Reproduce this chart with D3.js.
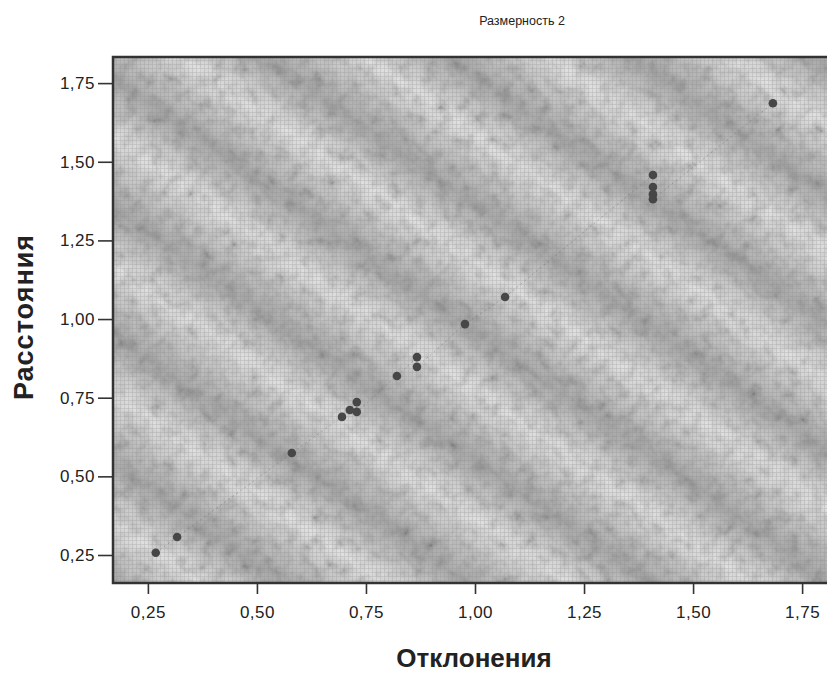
<!DOCTYPE html>
<html>
<head>
<meta charset="utf-8">
<script src="https://cdn.jsdelivr.net/npm/d3@7"></script>
<style>
  body { margin: 0; background: #fff; }
  svg { display: block; font-family: "Liberation Sans", Arial, sans-serif; }
</style>
</head>
<body>
<svg id="chart"></svg>
<script>
// disparities (x) and distances (y)
const otkloneniya = [0.268, 0.317, 0.58, 0.695, 0.713, 0.729, 0.729, 0.821, 0.867, 0.867, 0.977, 1.069, 1.408, 1.408, 1.408, 1.408, 1.683];
const rasstoyaniya = [0.257, 0.307, 0.574, 0.689, 0.711, 0.736, 0.705, 0.819, 0.879, 0.848, 0.984, 1.07, 1.458, 1.42, 1.397, 1.381, 1.686];
const xTicks = [0.25, 0.50, 0.75, 1.00, 1.25, 1.50, 1.75];
const yTicks = [0.25, 0.50, 0.75, 1.00, 1.25, 1.50, 1.75];

const width = 827, height = 674;
const margin = { top: 57, right: -10, bottom: 91, left: 113 };

const svg = d3.select("#chart")
    .attr("width", width)
    .attr("height", height);

const x = d3.scaleLinear()
    .domain([0.17, 1.83])
    .range([margin.left, width - margin.right]);

const y = d3.scaleLinear()
    .domain([0.161, 1.833])
    .range([height - margin.bottom, margin.top]);

const fmt = v => d3.format(".2f")(v).replace(".", ",");

const defs = svg.append("defs");

// soft diagonal bands of the scanned background
const grad = defs.append("linearGradient")
    .attr("id", "bandGrad")
    .attr("x1", 0).attr("y1", 0).attr("x2", 1).attr("y2", 0);
[[0, "#a9a9a9"], [0.3, "#c6c6c6"], [0.55, "#e0e0e0"], [0.8, "#c2c2c2"], [1, "#a9a9a9"]]
    .forEach(([o, c]) => grad.append("stop").attr("offset", o).attr("stop-color", c));

defs.append("pattern")
    .attr("id", "bands")
    .attr("patternUnits", "userSpaceOnUse")
    .attr("width", 105).attr("height", 10)
    .attr("patternTransform", "rotate(-55)")
    .append("rect")
    .attr("width", 105).attr("height", 10)
    .attr("fill", "url(#bandGrad)");

// fine screen grid
const grid = defs.append("pattern")
    .attr("id", "screen")
    .attr("patternUnits", "userSpaceOnUse")
    .attr("width", 4).attr("height", 4);
grid.append("path")
    .attr("d", "M0,0.5H4M0.5,0V4")
    .attr("stroke", "#8a8a8a")
    .attr("stroke-width", 0.6)
    .attr("opacity", 0.4);

// mottled speckle noise
const noise = defs.append("filter")
    .attr("id", "noise")
    .attr("x", 0).attr("y", 0).attr("width", 1).attr("height", 1);
noise.append("feTurbulence")
    .attr("type", "fractalNoise")
    .attr("baseFrequency", 0.08)
    .attr("numOctaves", 3)
    .attr("seed", 7);
noise.append("feColorMatrix")
    .attr("type", "matrix")
    .attr("values", "1.8 0 0 0 -0.2  1.8 0 0 0 -0.2  1.8 0 0 0 -0.2  0 0 0 0 1");

defs.append("clipPath").attr("id", "plotClip")
    .append("rect")
    .attr("x", x(0.17)).attr("y", y(1.833))
    .attr("width", x(1.83) - x(0.17))
    .attr("height", y(0.161) - y(1.833));

const plot = svg.append("g").attr("clip-path", "url(#plotClip)");
const px = x(0.17), py = y(1.833), pw = x(1.83) - x(0.17), ph = y(0.161) - y(1.833);

plot.append("rect").attr("x", px).attr("y", py).attr("width", pw).attr("height", ph)
    .attr("fill", "url(#bands)");
plot.append("rect").attr("x", px).attr("y", py).attr("width", pw).attr("height", ph)
    .attr("filter", "url(#noise)")
    .style("mix-blend-mode", "multiply")
    .attr("opacity", 0.28);
plot.append("rect").attr("x", px).attr("y", py).attr("width", pw).attr("height", ph)
    .attr("fill", "url(#screen)");

// faint fit line through the points
const pts = d3.range(otkloneniya.length).map(i => ({ x: otkloneniya[i], y: rasstoyaniya[i] }))
    .sort((a, b) => a.x - b.x);
plot.append("path")
    .datum(pts)
    .attr("d", d3.line().x(d => x(d.x)).y(d => y(d.y)))
    .attr("fill", "none")
    .attr("stroke", "#6a6a6a")
    .attr("stroke-width", 0.8)
    .attr("stroke-dasharray", "2,3")
    .attr("opacity", 0.5);

plot.selectAll(".pt")
    .data(pts)
    .join("circle")
    .attr("class", "pt")
    .attr("cx", d => x(d.x))
    .attr("cy", d => y(d.y))
    .attr("r", 4.3)
    .attr("fill", "#474747");

// frame
svg.append("path")
    .attr("d", `M${width + 5},${py}H${px}V${py + ph}H${width + 5}`)
    .attr("fill", "none")
    .attr("stroke", "#333")
    .attr("stroke-width", 2.5);

// axes
const xAxis = svg.append("g")
    .attr("transform", `translate(0,${py + ph})`)
    .call(d3.axisBottom(x).tickValues(xTicks).tickFormat(fmt).tickSize(11).tickPadding(12));
const yAxis = svg.append("g")
    .attr("transform", `translate(${px},0)`)
    .call(d3.axisLeft(y).tickValues(yTicks).tickFormat(fmt).tickSize(15).tickPadding(3));

[xAxis, yAxis].forEach(a => {
    a.select(".domain").remove();
    a.selectAll("line").attr("stroke", "#333").attr("stroke-width", 1.6);
    a.selectAll("text")
        .attr("font-family", "'Liberation Sans', Arial, sans-serif")
        .attr("font-size", "17px")
        .attr("letter-spacing", "0.5px")
        .attr("fill", "#222");
});

svg.append("text")
    .attr("x", 522).attr("y", 25)
    .attr("text-anchor", "middle")
    .attr("font-size", "12.5px")
    .attr("fill", "#222")
    .text("Размерность 2");

svg.append("text")
    .attr("x", 474).attr("y", 667)
    .attr("text-anchor", "middle")
    .attr("font-size", "26px")
    .attr("font-weight", "bold")
    .attr("fill", "#222")
    .text("Отклонения");

svg.append("text")
    .attr("transform", `translate(33,317) rotate(-90)`)
    .attr("text-anchor", "middle")
    .attr("font-size", "27px")
    .attr("font-weight", "bold")
    .attr("letter-spacing", "1px")
    .attr("fill", "#222")
    .text("Расстояния");
</script>
</body>
</html>
